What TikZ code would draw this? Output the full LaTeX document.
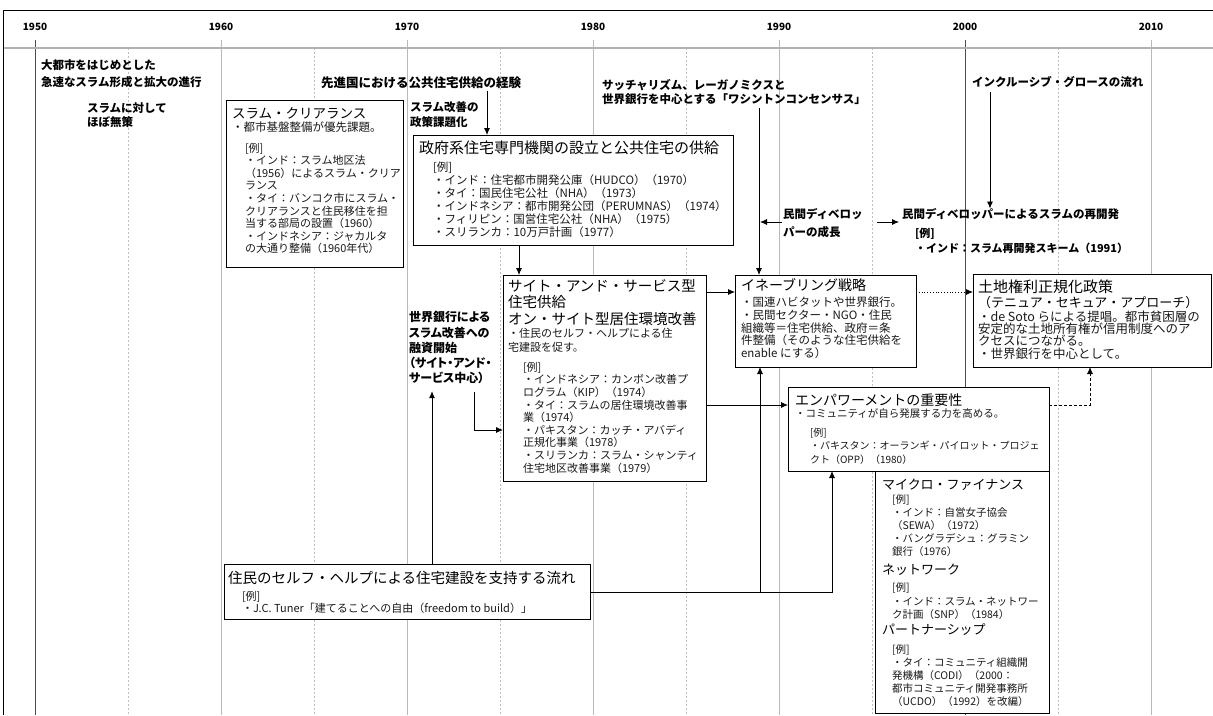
\documentclass[tikz,border=0pt]{standalone}
\usepackage{fontspec}
\setmainfont{Noto Sans CJK JP}
\newfontfamily\jpp{Noto Sans CJK JP}[RawFeature=+palt]
\usetikzlibrary{arrows.meta}
\newcommand\fsz[2]{\fontsize{#1}{#2}\selectfont}
\begin{document}
\begin{tikzpicture}[x=1pt,y=-1pt,
  every node/.style={inner sep=0pt,outer sep=0pt},
  frameline/.style={draw=black,line width=0.9pt},
  gridmain/.style={draw=black!70,line width=0.7pt},
  gridmajor/.style={draw=gray!55,line width=0.7pt},
  griddash/.style={draw=gray!50,line width=0.6pt,dash pattern=on 2pt off 2pt},
  yearlab/.style={font=\bfseries\fsz{10}{12},anchor=center},
  box/.style={draw=black,line width=0.8pt,fill=white,anchor=north west},
  ttl/.style={anchor=north west,align=left,text=black},
  txt/.style={anchor=north west,align=left,text=black!90},
  ann/.style={anchor=north west,align=left,text=black},
  arr/.style={-{Latex[length=7pt,width=6pt]},line width=0.8pt,draw=black},
]
\useasboundingbox (0,0) rectangle (1213,715);
\fill[white] (0,0) rectangle (1213,715);

% grid
\foreach \xx in {128,314,500,686,872,1058} {\draw[griddash] (\xx,48) -- (\xx,715);}
\foreach \xx in {221,407,593,779,1151} {\draw[gridmajor] (\xx,40) -- (\xx,715);}
\foreach \xx in {35,965} {\draw[gridmain] (\xx,40) -- (\xx,715);}
\draw[draw=gray!60,line width=1.4pt] (3,48) -- (1213,48);
\draw[frameline] (3,715) -- (3,10) -- (1213,10);
\foreach \yr/\xx in {1950/35,1960/221,1970/407,1980/593,1990/779,2000/965,2010/1151}
  {\node[yearlab] (y\yr) at (\xx,27) {\yr};}

% boxes
\node[box,minimum width=177pt,minimum height=167pt] (slum) at (226,100) {};
\node[box,minimum width=320pt,minimum height=110pt] (gov) at (413,135) {};
\node[box,minimum width=203pt,minimum height=206pt] (site) at (503,275) {};
\node[box,minimum width=181pt,minimum height=92pt] (enab) at (735,275) {};
\node[box,minimum width=238pt,minimum height=93pt] (land) at (973,274) {};
\node[box,minimum width=261pt,minimum height=84pt] (emp) at (788,387) {};
\node[box,minimum width=174pt,minimum height=242pt] (micro) at (875,471) {};
\node[box,minimum width=366pt,minimum height=55pt] (bot) at (224,564) {};

% slum box text
\node[ttl,font=\fsz{13.5}{16}] (slumT) at (232,108) {スラム・クリアランス};
\node[txt,font=\fsz{11.5}{13}] (slumB1) at (232,122) {・都市基盤整備が優先課題。};
\node[txt,font=\fsz{11}{12.6}] (slumB2) at (245,143) {{[}例]\\・インド：スラム地区法\\（1956）によるスラム・クリア\\ランス\\・タイ：バンコク市にスラム・\\クリアランスと住民移住を担\\当する部局の設置（1960）\\・インドネシア：ジャカルタ\\の大通り整備（1960年代）};

% gov box text
\node[ttl,font=\fsz{15}{18}] (govT) at (419,141) {政府系住宅専門機関の設立と公共住宅の供給};
\node[txt,font=\fsz{11.5}{13}] (govB) at (433,162) {{[}例]\\・インド：住宅都市開発公庫（HUDCO）（1970）\\・タイ：国民住宅公社（NHA）（1973）\\・インドネシア：都市開発公団（PERUMNAS）（1974）\\・フィリピン：国営住宅公社（NHA）（1975）\\・スリランカ：10万戸計画（1977）};

% site box text
\node[ttl,font=\fsz{14.5}{16.5}] (siteT) at (508,279) {サイト・アンド・サービス型\\住宅供給\\オン・サイト型居住環境改善};
\node[txt,font=\fsz{11}{14}] (siteB1) at (508,328) {・住民のセルフ・ヘルプによる住\\宅建設を促す。};
\node[txt,font=\fsz{11}{12.6}] (siteB2) at (523,362) {{[}例]\\・インドネシア：カンボン改善プ\\ログラム（KIP）（1974）\\・タイ：スラムの居住環境改善事\\業（1974）\\・パキスタン：カッチ・アバディ\\正規化事業（1978）\\・スリランカ：スラム・シャンティ\\住宅地区改善事業（1979）};

% enabling
\node[ttl,font=\fsz{14}{16}] (enabT) at (741,278.5) {イネーブリング戦略};
\node[txt,font=\fsz{11.5}{12.75}] (enabB) at (741,297) {・国連ハビタットや世界銀行。\\・民間セクター・NGO・住民\\組織等＝住宅供給、政府＝条\\件整備（そのような住宅供給を\\enable にする）};

% land
\node[ttl,font=\fsz{15}{17}] (landT1) at (978,280) {土地権利正規化政策};
\node[ttl,font=\fsz{13}{15}] (landT2) at (978,296) {（テニュア・セキュア・アプローチ）};
\node[txt,font=\fsz{12.5}{12.2}] (landB) at (978,311) {・de Soto らによる提唱。都市貧困層の\\安定的な土地所有権が信用制度へのア\\クセスにつながる。\\・世界銀行を中心として。};

% empowerment
\node[ttl,font=\fsz{14}{16}] (empT) at (795,393.5) {エンパワーメントの重要性};
\node[txt,font=\fsz{10.5}{12}] (empB1) at (795,409) {・コミュニティが自ら発展する力を高める。};
\node[txt,font=\fsz{10}{13.5}] (empB2) at (810,428) {{[}例]\\・パキスタン：オーランギ・パイロット・プロジェ\\クト（OPP）（1980）};

% micro
\node[ttl,font=\fsz{13}{15}] (microT1) at (882,479) {マイクロ・ファイナンス};
\node[txt,font=\fsz{10.5}{13}] (microB1) at (892,495) {{[}例]\\・インド：自営女子協会\\（SEWA）（1972）\\・バングラデシュ：グラミン\\銀行（1976）};
\node[ttl,font=\fsz{13}{15}] (microT2) at (882,564) {ネットワーク};
\node[txt,font=\fsz{10.5}{13.5}] (microB2) at (892,583) {{[}例]\\・インド：スラム・ネットワー\\ク計画（SNP）（1984）};
\node[ttl,font=\fsz{13}{15}] (microT3) at (882,624) {パートナーシップ};
\node[txt,font=\fsz{10.5}{13}] (microB3) at (892,645) {{[}例]\\・タイ：コミュニティ組織開\\発機構（CODI）（2000：\\都市コミュニティ開発事務所\\（UCDO）（1992）を改編）};

% bottom
\node[ttl,font=\fsz{14.5}{16}] (botT) at (228,571) {住民のセルフ・ヘルプによる住宅建設を支持する流れ};
\node[txt,font=\fsz{11}{12}] (botB) at (242,591) {{[}例]\\・J.C. Tuner「建てることへの自由（freedom to build）」};

% annotations
\node[ann,font=\bfseries\fsz{11.5}{16.5}] (a1) at (41,60) {大都市をはじめとした\\急速なスラム形成と拡大の進行};
\node[ann,font=\bfseries\fsz{11.5}{14}] (a2) at (87,102.5) {スラムに対して\\ほぼ無策};
\node[ann,anchor=north east,font=\bfseries\fsz{12.5}{14}] (a3) at (521,77) {先進国における公共住宅供給の経験};
\node[ann,font=\bfseries\fsz{11.5}{15}] (a4) at (410,101.5) {スラム改善の\\政策課題化};
\node[ann,font=\bfseries\fsz{11.5}{14.3}] (a5) at (602,79.5) {サッチャリズム、レーガノミクスと\\世界銀行を中心とする「ワシントンコンセンサス」};
\node[ann,font=\bfseries\fsz{11.5}{14}] (a6) at (972,76.5) {インクルーシブ・グロースの流れ};
\node[ann,font=\bfseries\fsz{11.5}{17.5}] (a7) at (783,208.5) {民間ディベロッ\\パーの成長};
\node[ann,font=\bfseries\fsz{11.5}{14}] (a8) at (902,208.5) {民間ディベロッパーによるスラムの再開発};
\node[ann,font=\bfseries\fsz{11}{15}] (a9) at (915,228) {{[}例]\\・インド：スラム再開発スキーム（1991）};
\node[ann,font=\jpp\bfseries\fsz{12}{15.3}] (a10) at (409,311.5) {世界銀行による\\スラム改善への\\融資開始\\（サイト・アンド・\\サービス中心）};

% coordinates
\coordinate (devL) at (760,222);
\coordinate (devR) at (899,222);
\coordinate (e1) at (474,392);
\coordinate (j1) at (760,592);

% connectors
\draw[arr,shorten <=2pt] (a3.south -| 487,0) -- (gov.north -| 487,0);
\draw[arr] (gov.south -| 519,0) -- (site.north -| 519,0);
\draw[arr,shorten <=3pt] (a5.south -| 759,0) -- (enab.north -| 759,0);
\draw[arr] (a7.west |- devL) ++(-1,0) -- (devL);
\draw[arr] (877,222) -- (devR);
\draw[arr,shorten <=4pt] (a6.south -| 990,0) -- (a8.north -| 990,0);
\draw[arr,shorten >=7pt] (bot.north -| 432,0) -- (a10.south -| 432,0);
\draw[arr] (e1) |- (site.west |- 0,430);
\draw[arr] (site.east |- 0,292) -- (enab.west |- 0,292);
\draw[arr] (site.east |- 0,405) -- (emp.west |- 0,405);
\draw[arr,dotted] (enab.east |- 0,292) -- (land.west |- 0,292);
\draw[arr,densely dashed] (emp.east |- 0,405) -| (land.south -| 1090,0);
\draw[arr] (bot.east |- 0,592) -| (emp.south -| 832,0);
\draw[arr] (j1) -- (enab.south -| 760,0);
\end{tikzpicture}
\end{document}
